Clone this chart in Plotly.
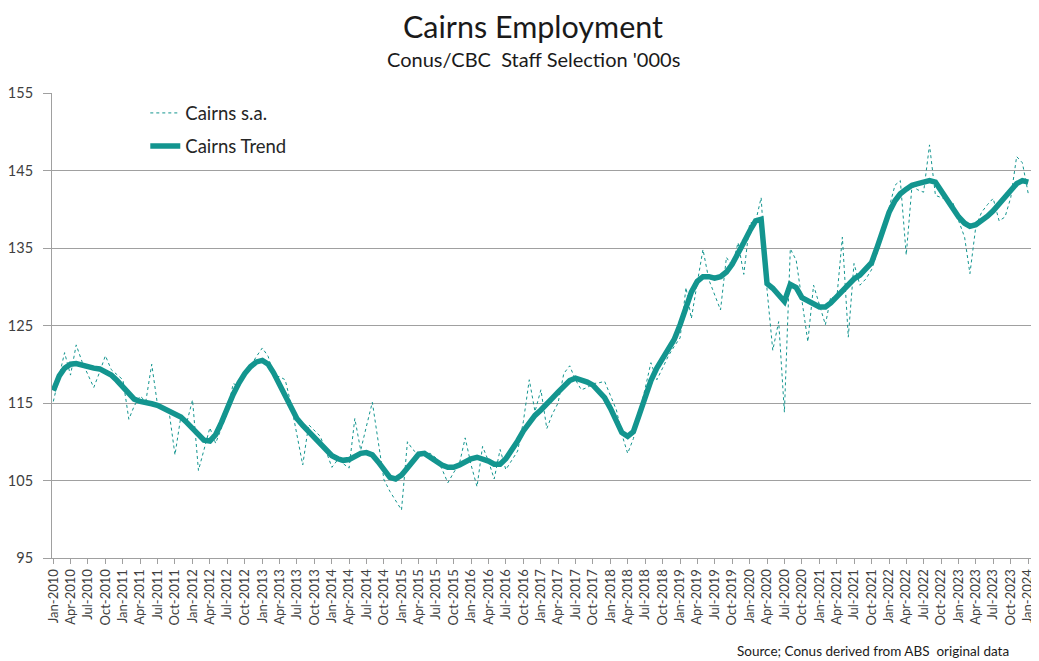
import pandas as pd
import plotly.graph_objects as go

# monthly, Jan-2010 .. Jan-2024, '000 persons
months = pd.date_range("2010-01-01", "2024-01-01", freq="MS")

cairns_sa = [
    115.2, 118.5, 121.5, 118.6, 122.5, 120.3, 118.6, 117.0, 119.0, 121.1, 119.3, 118.7,  # 2010
    118.0, 112.9, 114.6, 115.9, 115.2, 120.0, 114.8, 114.2, 113.7, 108.3, 113.3, 112.4,  # 2011
    115.4, 106.3, 109.0, 111.8, 109.8, 111.7, 113.7, 117.5, 117.2, 118.8, 119.8, 121.0,  # 2012
    122.1, 121.0, 118.5, 118.4, 118.0, 114.8, 111.0, 107.0, 112.2, 111.5, 110.7, 108.8,  # 2013
    106.7, 107.7, 107.2, 106.6, 113.0, 108.9, 112.0, 115.1, 110.0, 105.1, 103.6, 102.5,  # 2014
    101.2, 110.0, 109.0, 108.3, 108.5, 108.5, 107.9, 106.5, 104.7, 106.0, 107.2, 110.5,  # 2015
    107.0, 104.2, 109.4, 107.5, 105.2, 109.0, 106.4, 107.6, 108.8, 112.6, 118.0, 113.9,  # 2016
    116.7, 111.7, 113.5, 115.0, 118.8, 119.8, 118.0, 116.7, 117.0, 117.5, 117.6, 117.8,  # 2017
    116.0, 114.1, 111.0, 108.5, 110.4, 113.5, 116.8, 120.2, 118.0, 119.5, 121.1, 122.3,  # 2018
    123.4, 129.9, 125.9, 130.5, 134.8, 130.9, 129.0, 127.0, 133.8, 132.6, 135.7, 131.6,  # 2019
    138.2, 138.4, 141.5, 129.6, 121.8, 125.5, 113.8, 134.9, 133.4, 128.5, 122.9, 130.2,  # 2020
    127.5, 125.1, 128.7, 128.3, 136.4, 123.5, 133.0, 130.2, 131.0, 132.2, 134.5, 137.3,  # 2021
    140.5, 143.1, 143.7, 134.1, 143.0, 142.5, 142.2, 148.3, 141.8, 141.5, 141.2, 140.9,  # 2022
    138.5, 136.4, 131.7, 137.8, 139.6, 140.6, 141.4, 138.5, 139.0, 141.5, 146.8, 146.0,  # 2023
    142.0,                                                                               # 2024
]

cairns_trend = [
    116.6, 118.5, 119.5, 120.0, 120.1, 119.9, 119.6, 119.5, 119.4, 119.1, 118.6, 117.9,  # 2010
    117.0, 116.1, 115.5, 115.2, 115.1, 114.9, 114.7, 114.3, 114.0, 113.6, 113.2, 112.5,  # 2011
    111.7, 110.9, 110.2, 110.1, 110.9, 112.5, 114.4, 116.1, 117.6, 118.8, 119.7, 120.3,  # 2012
    120.5, 120.0, 118.9, 117.4, 115.6, 114.2, 113.0, 112.1, 111.3, 110.6, 109.9, 109.0,  # 2013
    108.2, 107.8, 107.6, 107.7, 108.0, 108.5, 108.6, 108.3, 107.4, 106.3, 105.4, 105.2,  # 2014
    105.7, 106.6, 107.6, 108.4, 108.5, 108.0, 107.4, 107.0, 106.7, 106.7, 107.0, 107.4,  # 2015
    107.8, 108.0, 107.8, 107.5, 107.1, 107.1, 107.8, 108.9, 110.1, 111.4, 112.5, 113.4,  # 2016
    114.1, 114.8, 115.6, 116.4, 117.2, 117.9, 118.2, 118.0, 117.7, 117.3, 116.6, 115.7,  # 2017
    114.3, 112.6, 111.2, 110.7, 111.3, 113.5, 115.8, 117.9, 119.5, 120.8, 121.8, 123.2,  # 2018
    125.1, 127.2, 129.3, 130.7, 131.3, 131.3, 131.1, 131.3, 131.9, 132.9, 134.2, 135.7,  # 2019
    137.2, 138.5, 138.7, 130.4, 129.8, 129.0, 128.1, 130.3, 129.9, 128.6, 128.2, 127.8,  # 2020
    127.4, 127.4, 127.9, 128.7, 129.5, 130.3, 131.0, 131.5, 132.2, 133.1, 135.2, 137.5,  # 2021
    139.6, 141.1, 142.0, 142.6, 143.1, 143.3, 143.5, 143.7, 143.5, 142.4, 141.4, 140.2,  # 2022
    139.0, 138.2, 137.8, 138.0, 138.5, 139.1, 139.8, 140.7, 141.7, 142.5, 143.3, 143.7,  # 2023
    143.5,                                                                               # 2024
]

TEAL = "#13958f"
GRID = "#a0a0a0"
TXT = "#404040"
FONT = "Lato"

# the page body has an 8px margin, so the figure is drawn 8px smaller and shifted
fig = go.Figure()
fig.add_trace(go.Scatter(
    x=months, y=cairns_sa, mode="lines", name="Cairns s.a.",
    line=dict(color=TEAL, width=1, dash="dot"),
    legendgroup="sa",
))
fig.add_trace(go.Scatter(
    x=months, y=cairns_trend, mode="lines", name="Cairns Trend",
    line=dict(color=TEAL, width=5.5),
    legendgroup="trend",
))

fig.update_layout(
    width=1031,
    height=653,
    autosize=False,
    margin=dict(l=44, r=5, t=85, b=103),
    paper_bgcolor="white",
    plot_bgcolor="white",
    font=dict(family=FONT, color=TXT),
    showlegend=True,
    legend=dict(
        x=0.095, y=0.997, xanchor="left", yanchor="top",
        font=dict(family=FONT, size=18.5, color="#262626"),
        bgcolor="rgba(0,0,0,0)",
        traceorder="grouped",
        tracegroupgap=6,
    ),
    xaxis=dict(
        type="date",
        range=["2009-12-25", "2024-01-31"],
        tick0="2010-01-01",
        dtick="M3",
        tickformat="%b-%Y",
        tickangle=-90,
        tickfont=dict(family=FONT, size=13, color=TXT),
        ticklabeloverflow="allow",
        ticks="outside",
        ticklen=5,
        tickcolor=GRID,
        showgrid=False,
        showline=True,
        linecolor=GRID,
        linewidth=1,
        zeroline=False,
        automargin=False,
    ),
    yaxis=dict(
        range=[95, 155],
        tickvals=[95, 105, 115, 125, 135, 145, 155],
        tickfont=dict(family=FONT, size=14.5, color=TXT),
        ticks="outside",
        ticklen=8,
        tickcolor=GRID,
        ticklabelstandoff=7,
        showgrid=True,
        gridcolor=GRID,
        gridwidth=1,
        showline=True,
        mirror=True,
        linecolor=GRID,
        linewidth=1,
        zeroline=False,
        automargin=False,
    ),
    annotations=[
        dict(text="Cairns Employment", xref="paper", yref="paper",
             x=0.49, y=1.0, yanchor="middle", yshift=67, showarrow=False,
             font=dict(family=FONT, size=30.5, color="#1a1a1a")),
        dict(text="Conus/CBC  Staff Selection '000s", xref="paper", yref="paper",
             x=0.49, y=1.0, yanchor="middle", yshift=34, showarrow=False,
             font=dict(family=FONT, size=20, color="#1a1a1a")),
        dict(text="Source; Conus derived from ABS  original data", xref="paper", yref="paper",
             x=1.0, xshift=-23, xanchor="right", y=0, yanchor="middle", yshift=-93,
             showarrow=False,
             font=dict(family=FONT, size=13.5, color="#1a1a1a")),
    ],
)

fig.write_html("out.html")
